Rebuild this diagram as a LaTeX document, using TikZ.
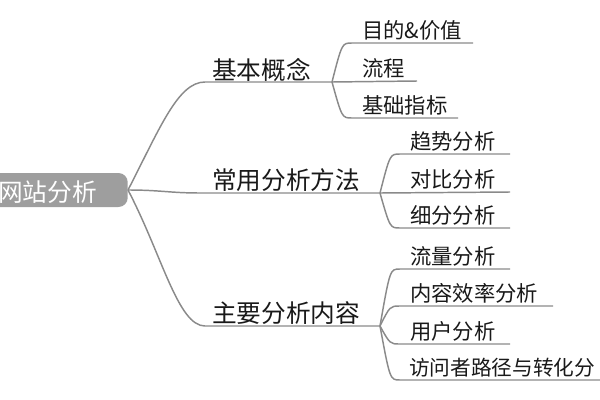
\documentclass[tikz,border=0pt]{standalone}
\usepackage{fontspec}
\setmainfont{Noto Sans CJK SC}
\definecolor{linegray}{RGB}{138,138,138}
\definecolor{rootgray}{RGB}{158,158,158}
\definecolor{txt}{RGB}{25,25,25}
\begin{document}
\begin{tikzpicture}[x=0.75pt,y=-0.75pt,
  conn/.style={draw=linegray,line width=1.1pt},
  lvlone/.style={anchor=base west,inner sep=0pt,font=\fontsize{18.5}{20}\selectfont,text=txt},
  lvltwo/.style={anchor=base west,inner sep=0pt,font=\fontsize{16}{18}\selectfont,text=txt},
  rootbox/.style={fill=rootgray,rounded corners=7pt,minimum width=107pt,minimum height=25.5pt,inner sep=0pt,anchor=east},
  roottext/.style={anchor=base west,inner sep=0pt,font=\fontsize{18.5}{20}\selectfont,text=white}]
\useasboundingbox (0,0) rectangle (600,400);

% root
\node[rootbox] (root) at (128,190) {};
\node[roottext] (roottxt) at (-2,201) {网站分析};

% branch coordinates
\coordinate (b1s) at (205,82);  \coordinate (b1f) at (332,82);
\coordinate (b2s) at (200,193); \coordinate (b2f) at (380,193);
\coordinate (b3s) at (205,326); \coordinate (b3f) at (380,326);

\draw[conn] (root.east) .. controls (160,128) and (178,82) .. (b1s) -- (b1f);
\draw[conn] (root.east) .. controls (160,190) and (170,193) .. (b2s) -- (b2f);
\draw[conn] (root.east) .. controls (162,255) and (178,326) .. (b3s) -- (b3f);

\node[lvlone] (t1) at (212,79) {基本概念};
\node[lvlone] (t2) at (212,189) {常用分析方法};
\node[lvlone] (t3) at (212,322) {主要分析内容};

% sub-branches of 基本概念
\coordinate (s11) at (352,43);  \coordinate (e11) at (473,43);
\coordinate (e12) at (417,81);
\coordinate (s13) at (352,118); \coordinate (e13) at (458,118);
\draw[conn] (b1f) .. controls (342,43) and (342,43) .. (s11) -- (e11);
\draw[conn] (b1f) -- (e12);
\draw[conn] (b1f) .. controls (342,118) and (342,118) .. (s13) -- (e13);
\node[lvltwo] (t11) at (362,38.5) {目的\&价值};
\node[lvltwo] (t12) at (362,76.5) {流程};
\node[lvltwo] (t13) at (362,113.5) {基础指标};

% sub-branches of 常用分析方法
\coordinate (s21) at (400,154); \coordinate (e21) at (510,154);
\coordinate (e22) at (510,192);
\coordinate (s23) at (400,228); \coordinate (e23) at (510,228);
\draw[conn] (b2f) .. controls (390,154) and (390,154) .. (s21) -- (e21);
\draw[conn] (b2f) -- (e22);
\draw[conn] (b2f) .. controls (390,228) and (390,228) .. (s23) -- (e23);
\node[lvltwo] (t21) at (410,149.5) {趋势分析};
\node[lvltwo] (t22) at (410,187.5) {对比分析};
\node[lvltwo] (t23) at (410,223.5) {细分分析};

% sub-branches of 主要分析内容
\coordinate (s31) at (400,269); \coordinate (e31) at (510,269);
\coordinate (s32) at (400,306); \coordinate (e32) at (553,306);
\coordinate (s33) at (400,344); \coordinate (e33) at (510,344);
\coordinate (s34) at (400,380); \coordinate (e34) at (600,380);
\draw[conn] (b3f) .. controls (390,269) and (390,269) .. (s31) -- (e31);
\draw[conn] (b3f) .. controls (390,306) and (390,306) .. (s32) -- (e32);
\draw[conn] (b3f) .. controls (390,344) and (390,344) .. (s33) -- (e33);
\draw[conn] (b3f) .. controls (390,380) and (390,380) .. (s34) -- (e34);
\node[lvltwo] (t31) at (410,264.5) {流量分析};
\node[lvltwo] (t32) at (410,301.5) {内容效率分析};
\node[lvltwo] (t33) at (410,339.5) {用户分析};
\node[lvltwo,font=\fontsize{15.5}{18}\selectfont] (t34) at (409,375.5) {访问者路径与转化分};
\end{tikzpicture}
\end{document}
